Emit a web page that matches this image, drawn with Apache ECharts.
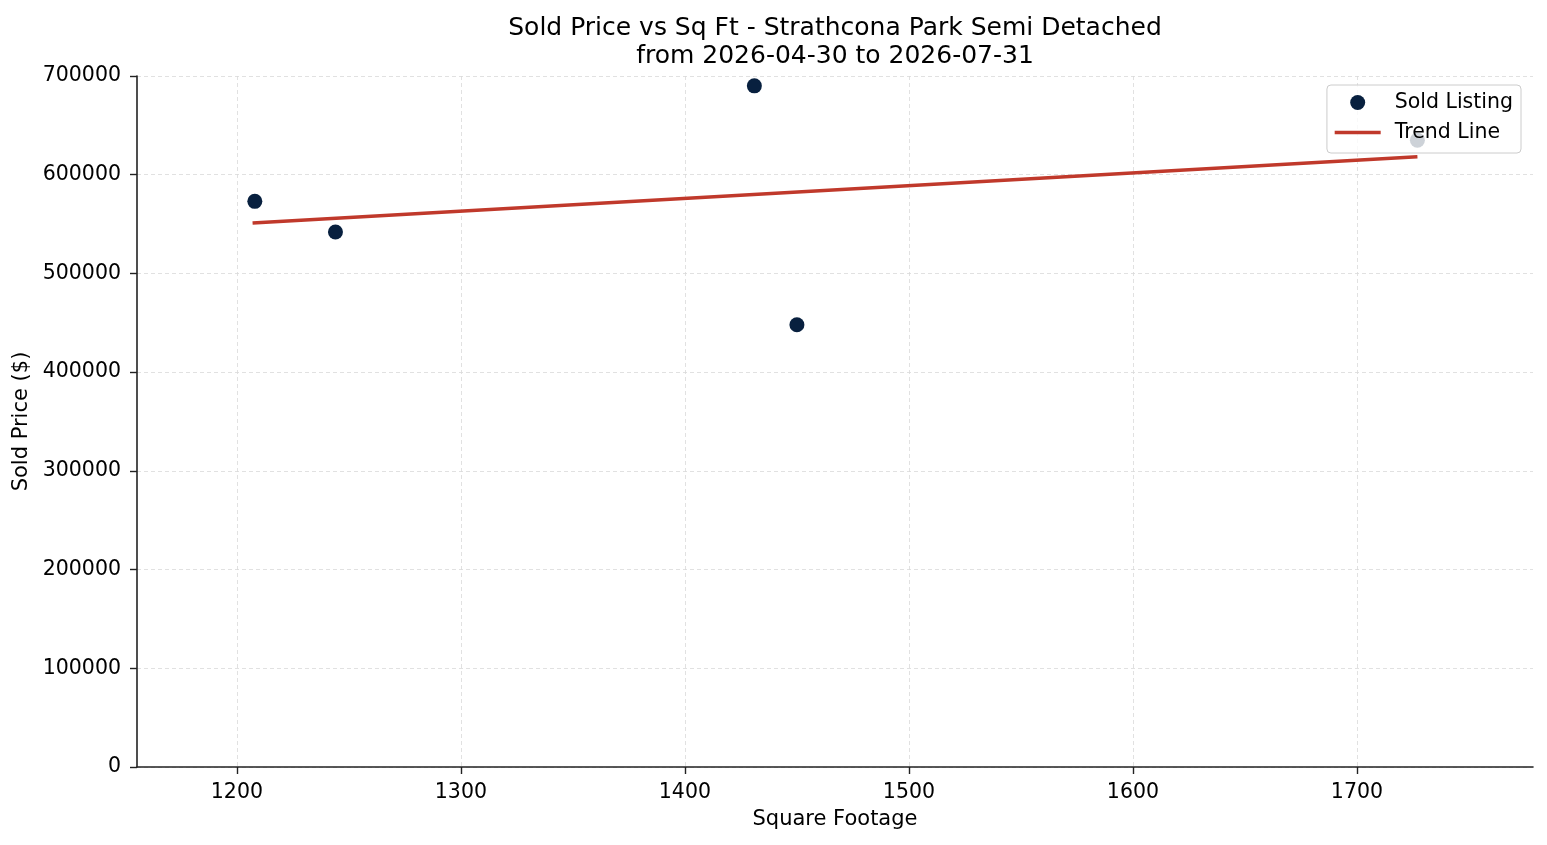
<!DOCTYPE html>
<html>
<head>
<meta charset="utf-8">
<title>Sold Price vs Sq Ft</title>
<script src="https://cdn.jsdelivr.net/npm/echarts@6/dist/echarts.min.js"></script>
<style>
html,body{margin:0;padding:0;background:#fff;}
#chart{width:1547px;height:845px;}
</style>
</head>
<body>
<div id="chart"></div>
<script>
// data
var sqft = [1208, 1244, 1431, 1450, 1727];
var price = [573000, 542000, 690000, 448000, 635000];
// trend line end points
var trendX = [1207, 1727];
var trendY = [551000, 618300];
var xTicks = [1200, 1300, 1400, 1500, 1600, 1700];

var font = 'DejaVu Sans';
var dom = echarts.init(document.getElementById('chart'));

var pts = [];
for (var i = 0; i < sqft.length; i++) {
	pts.push([sqft[i], price[i]]);
}
var trend = [];
for (var i = 0; i < trendX.length; i++) {
	trend.push([trendX[i], trendY[i]]);
}
function plain(v) { return String(v); }

var option = {
	animation: false,
	backgroundColor: '#fff',
	textStyle: { fontFamily: font },
	title: {
		text: 'Sold Price vs Sq Ft - Strathcona Park Semi Detached\nfrom 2026-04-30 to 2026-07-31',
		left: 835,
		top: 14,
		padding: 0,
		textAlign: 'center',
		textStyle: { fontFamily: font, fontSize: 25, fontWeight: 'normal', color: '#000', lineHeight: 28 }
	},
	legend: {
		orient: 'vertical',
		right: 26,
		top: 85,
		padding: [7, 8, 10, 6],
		itemWidth: 46,
		itemHeight: 15,
		itemGap: 9,
		backgroundColor: 'rgba(255,255,255,0.8)',
		borderColor: '#cccccc',
		borderWidth: 1,
		borderRadius: 4,
		textStyle: { fontFamily: font, fontSize: 20.5, color: '#000', padding: [0, 0, 0, 9] },
		data: [
			{ name: 'Sold Listing', icon: 'circle' },
			{ name: 'Trend Line', itemStyle: { opacity: 0 }, lineStyle: { width: 3.5, color: '#c0392b' } }
		]
	},
	grid: { left: 137, right: 14, top: 76, bottom: 78, containLabel: false },
	xAxis: {
		type: 'value',
		min: 1155.4,
		max: 1778.6,
		name: 'Square Footage',
		nameLocation: 'middle',
		nameGap: 42,
		nameTextStyle: { fontFamily: font, fontSize: 21, color: '#000' },
		axisLine: { lineStyle: { color: '#222', width: 1.6 } },
		axisTick: { show: true, inside: false, length: 7, lineStyle: { color: '#222', width: 1.4 }, customValues: xTicks },
		axisLabel: { fontFamily: font, fontSize: 20.5, color: '#000', margin: 15, customValues: xTicks, formatter: plain },
		splitLine: { show: true, lineStyle: { color: '#d9d9d9', type: [4, 3], width: 0.8 } }
	},
	yAxis: {
		type: 'value',
		min: 0,
		max: 700000,
		interval: 100000,
		name: 'Sold Price ($)',
		nameLocation: 'middle',
		nameGap: 104,
		nameTextStyle: { fontFamily: font, fontSize: 21, color: '#000' },
		axisLine: { show: true, lineStyle: { color: '#222', width: 1.6 } },
		axisTick: { show: true, inside: false, length: 7, lineStyle: { color: '#222', width: 1.4 } },
		axisLabel: { fontFamily: font, fontSize: 20.5, color: '#000', margin: 16, formatter: plain },
		splitLine: { show: true, lineStyle: { color: '#d9d9d9', type: [4, 3], width: 0.8 } }
	},
	series: [{
		name: 'Sold Listing',
		type: 'scatter',
		symbol: 'circle',
		symbolSize: 15,
		itemStyle: { color: '#08203f', opacity: 1 },
		data: pts,
		z: 3
	}, {
		name: 'Trend Line',
		type: 'line',
		showSymbol: false,
		symbol: 'none',
		lineStyle: { color: '#c0392b', width: 3.5 },
		itemStyle: { color: '#c0392b' },
		data: trend,
		z: 2
	}]
};
dom.setOption(option);
</script>
</body>
</html>
